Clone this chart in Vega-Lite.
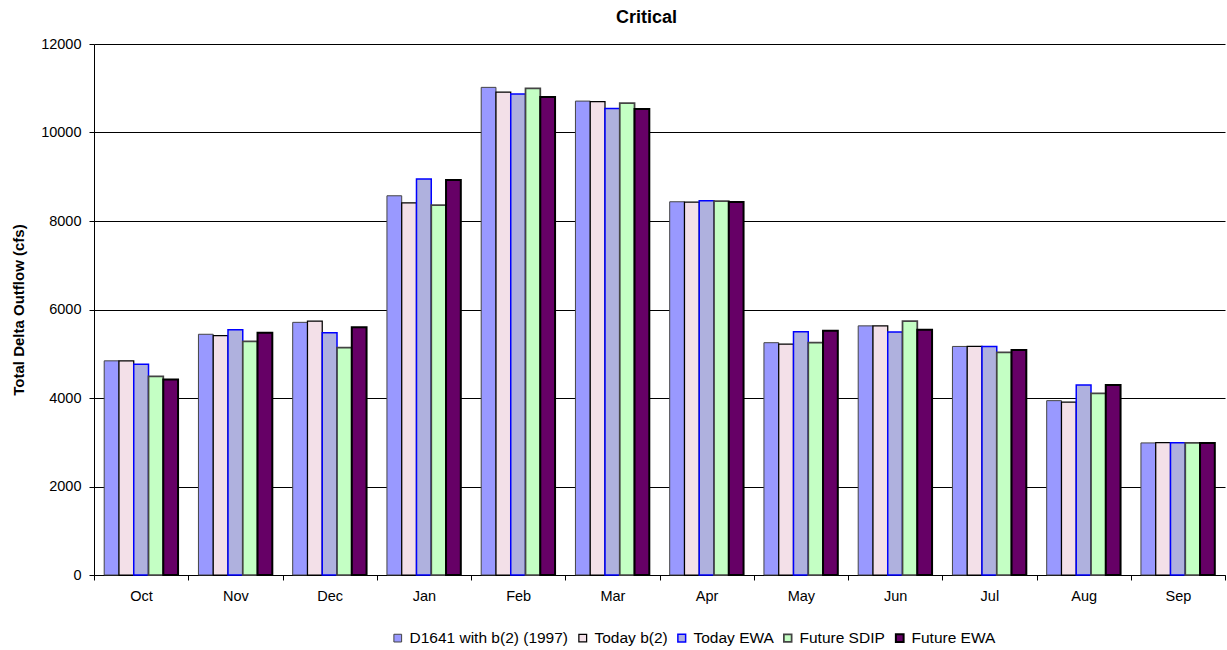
{
  "$schema": "https://vega.github.io/schema/vega-lite/v6.json",
  "autosize": {"type": "none"},
  "width": 1131,
  "height": 531,
  "padding": {"left": 94, "top": 44, "right": 2, "bottom": 75},
  "background": "white",
  "title": {"text": "Critical", "font": "Liberation Sans", "fontSize": 18, "fontWeight": "bold", "color": "black", "anchor": "middle", "offset": 9, "dx": -13},
  "config": {
    "font": "Liberation Sans",
    "view": {"stroke": null},
    "axis": {"labelFont": "Liberation Sans", "titleFont": "Liberation Sans", "labelColor": "black", "titleColor": "black"}
  },
  "data": {
    "values": [
      {"month": "Oct", "series": "D1641 with b(2) (1997)", "value": 4840},
      {"month": "Oct", "series": "Today b(2)", "value": 4840},
      {"month": "Oct", "series": "Today EWA", "value": 4760},
      {"month": "Oct", "series": "Future SDIP", "value": 4490},
      {"month": "Oct", "series": "Future EWA", "value": 4420},
      {"month": "Nov", "series": "D1641 with b(2) (1997)", "value": 5440},
      {"month": "Nov", "series": "Today b(2)", "value": 5410},
      {"month": "Nov", "series": "Today EWA", "value": 5540},
      {"month": "Nov", "series": "Future SDIP", "value": 5280},
      {"month": "Nov", "series": "Future EWA", "value": 5475},
      {"month": "Dec", "series": "D1641 with b(2) (1997)", "value": 5710},
      {"month": "Dec", "series": "Today b(2)", "value": 5740},
      {"month": "Dec", "series": "Today EWA", "value": 5475},
      {"month": "Dec", "series": "Future SDIP", "value": 5140},
      {"month": "Dec", "series": "Future EWA", "value": 5600},
      {"month": "Jan", "series": "D1641 with b(2) (1997)", "value": 8570},
      {"month": "Jan", "series": "Today b(2)", "value": 8410},
      {"month": "Jan", "series": "Today EWA", "value": 8950},
      {"month": "Jan", "series": "Future SDIP", "value": 8360},
      {"month": "Jan", "series": "Future EWA", "value": 8925},
      {"month": "Feb", "series": "D1641 with b(2) (1997)", "value": 11020},
      {"month": "Feb", "series": "Today b(2)", "value": 10915},
      {"month": "Feb", "series": "Today EWA", "value": 10870},
      {"month": "Feb", "series": "Future SDIP", "value": 11000},
      {"month": "Feb", "series": "Future EWA", "value": 10800},
      {"month": "Mar", "series": "D1641 with b(2) (1997)", "value": 10710},
      {"month": "Mar", "series": "Today b(2)", "value": 10695},
      {"month": "Mar", "series": "Today EWA", "value": 10540},
      {"month": "Mar", "series": "Future SDIP", "value": 10665},
      {"month": "Mar", "series": "Future EWA", "value": 10530},
      {"month": "Apr", "series": "D1641 with b(2) (1997)", "value": 8435},
      {"month": "Apr", "series": "Today b(2)", "value": 8425},
      {"month": "Apr", "series": "Today EWA", "value": 8460},
      {"month": "Apr", "series": "Future SDIP", "value": 8450},
      {"month": "Apr", "series": "Future EWA", "value": 8430},
      {"month": "May", "series": "D1641 with b(2) (1997)", "value": 5250},
      {"month": "May", "series": "Today b(2)", "value": 5220},
      {"month": "May", "series": "Today EWA", "value": 5500},
      {"month": "May", "series": "Future SDIP", "value": 5250},
      {"month": "May", "series": "Future EWA", "value": 5520},
      {"month": "Jun", "series": "D1641 with b(2) (1997)", "value": 5630},
      {"month": "Jun", "series": "Today b(2)", "value": 5630},
      {"month": "Jun", "series": "Today EWA", "value": 5490},
      {"month": "Jun", "series": "Future SDIP", "value": 5740},
      {"month": "Jun", "series": "Future EWA", "value": 5545},
      {"month": "Jul", "series": "D1641 with b(2) (1997)", "value": 5165},
      {"month": "Jul", "series": "Today b(2)", "value": 5165},
      {"month": "Jul", "series": "Today EWA", "value": 5165},
      {"month": "Jul", "series": "Future SDIP", "value": 5030},
      {"month": "Jul", "series": "Future EWA", "value": 5085},
      {"month": "Aug", "series": "D1641 with b(2) (1997)", "value": 3940},
      {"month": "Aug", "series": "Today b(2)", "value": 3905},
      {"month": "Aug", "series": "Today EWA", "value": 4295},
      {"month": "Aug", "series": "Future SDIP", "value": 4105},
      {"month": "Aug", "series": "Future EWA", "value": 4295},
      {"month": "Sep", "series": "D1641 with b(2) (1997)", "value": 2985},
      {"month": "Sep", "series": "Today b(2)", "value": 2990},
      {"month": "Sep", "series": "Today EWA", "value": 2990},
      {"month": "Sep", "series": "Future SDIP", "value": 2985},
      {"month": "Sep", "series": "Future EWA", "value": 2985}
    ]
  },
  "mark": {"type": "bar"},
  "encoding": {
    "x": {
      "field": "month", "type": "nominal", "sort": null,
      "scale": {"paddingInner": 0, "paddingOuter": 0},
      "axis": {"title": null, "labelAngle": 0, "labelFontSize": 14.5, "labelPadding": 9, "tickBand": "extent", "tickSize": 5, "tickColor": "black", "domainColor": "black", "grid": false}
    },
    "xOffset": {
      "field": "series", "type": "nominal", "sort": null,
      "scale": {"paddingInner": 0, "paddingOuter": 0.69}
    },
    "y": {
      "field": "value", "type": "quantitative",
      "scale": {"domain": [0, 12000], "nice": false},
      "axis": {"title": "Total Delta Outflow (cfs)", "titleFontSize": 15, "titleFontWeight": "bold", "titlePadding": 14, "values": [0, 2000, 4000, 6000, 8000, 10000, 12000], "format": "d", "labelFontSize": 14.5, "labelPadding": 8, "tickSize": 5, "tickColor": "black", "domainColor": "black", "grid": true, "gridColor": "black", "gridOpacity": 1, "gridWidth": 1}
    },
    "fill": {
      "field": "series", "type": "nominal", "sort": null,
      "scale": {"domain": ["D1641 with b(2) (1997)", "Today b(2)", "Today EWA", "Future SDIP", "Future EWA"], "range": ["#9999FF", "#F3E0E8", "#AFB1DE", "#C4FFC4", "#660066"]},
      "legend": {"title": null, "orient": "none", "legendX": 296, "legendY": 586, "direction": "horizontal", "symbolType": "square", "symbolSize": 60, "labelFontSize": 15.5, "labelFont": "Liberation Sans", "labelColor": "black", "labelOffset": 4, "columnPadding": 6, "symbolStrokeWidth": 1.2}
    },
    "stroke": {
      "field": "series", "type": "nominal", "sort": null,
      "scale": {"domain": ["D1641 with b(2) (1997)", "Today b(2)", "Today EWA", "Future SDIP", "Future EWA"], "range": ["#444444", "#000000", "#0000FF", "#444444", "#000000"]},
      "legend": null
    },
    "strokeWidth": {
      "field": "series", "type": "nominal", "sort": null,
      "scale": {"domain": ["D1641 with b(2) (1997)", "Today b(2)", "Today EWA", "Future SDIP", "Future EWA"], "range": [1, 2, 2, 1, 1]},
      "legend": null
    }
  }
}
